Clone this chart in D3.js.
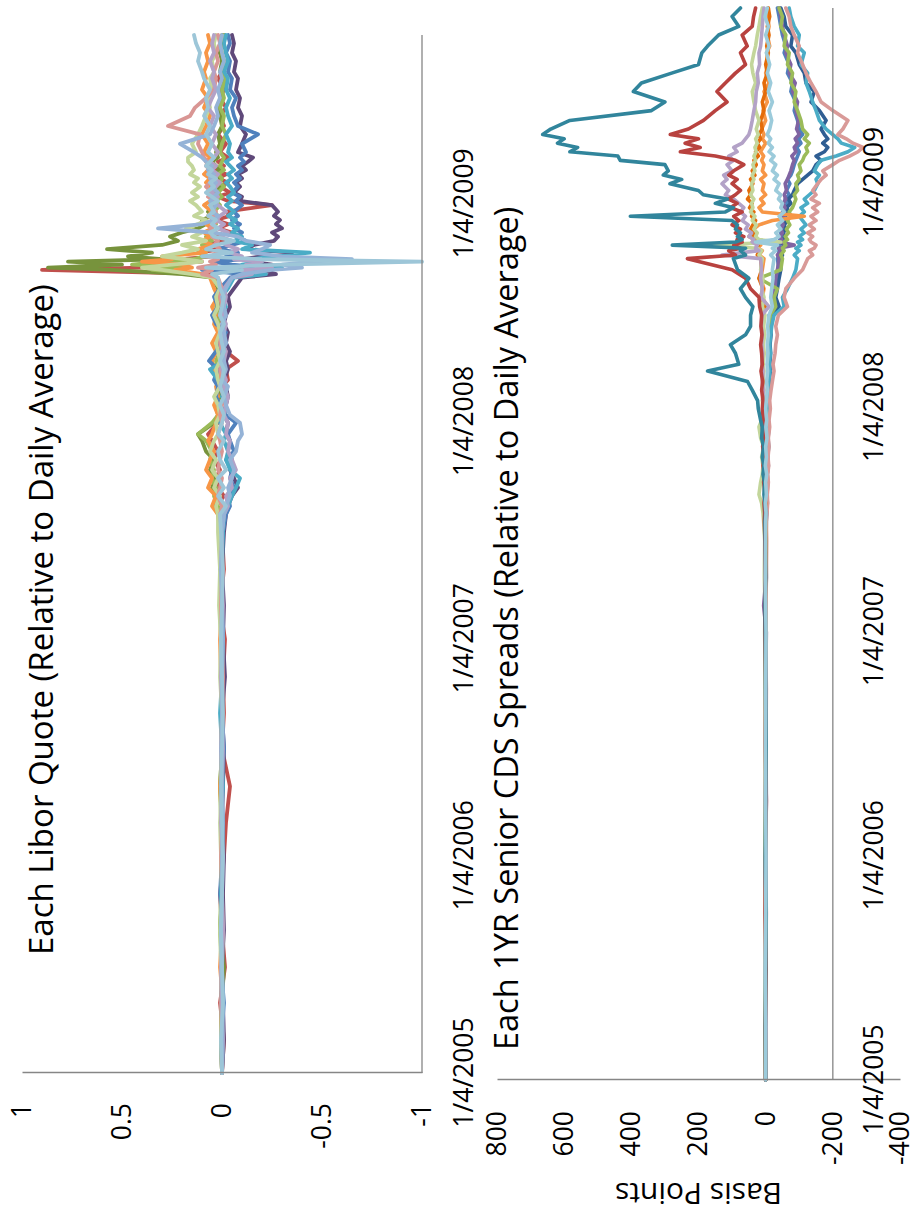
<!DOCTYPE html>
<html><head><meta charset="utf-8">
<script src="https://cdn.jsdelivr.net/npm/d3@7"></script>
<style>
html,body{margin:0;padding:0;background:#fff}
svg{display:block}
text{font-family:'Open Sans',sans-serif;fill:#000}
</style></head>
<body><svg id="c" width="915" height="1216"></svg>
<script>
// ---------------- DATA ----------------
const dateTicks = ["2005-01-04","2006-01-04","2007-01-04","2008-01-04","2009-01-04"];
const axisStart = "2005-01-04", axisEnd = "2009-10-15";
const liborTicks = [1, 0.5, 0, -0.5, -1];
const cdsTicks = [800, 600, 400, 200, 0, -200, -400];
const liborTitle = "Each Libor Quote (Relative to Daily Average)";
const cdsTitle = "Each 1YR Senior CDS Spreads (Relative to Daily Average)";
const cdsAxisTitle = "Basis Points";

const liborDates = ["2005-01-04","2005-03-01","2005-05-02","2005-07-01","2005-09-01","2005-11-01","2006-01-03","2006-03-01","2006-05-01","2006-07-03","2006-09-01","2006-11-01","2007-01-03","2007-03-01","2007-05-01","2007-07-02",
"2007-08-01","2007-08-15","2007-09-01","2007-09-15","2007-10-01","2007-10-15","2007-11-01","2007-11-15","2007-12-03","2007-12-14","2008-01-02","2008-01-15","2008-02-01","2008-02-15","2008-03-03","2008-03-14","2008-04-01","2008-04-15","2008-05-01","2008-05-15","2008-06-02","2008-06-16","2008-07-01","2008-07-15","2008-08-01","2008-08-15",
"2008-09-02","2008-09-08","2008-09-15","2008-09-19","2008-09-24","2008-09-29","2008-10-03","2008-10-08","2008-10-14","2008-10-20","2008-10-27","2008-11-03","2008-11-10","2008-11-17","2008-11-24","2008-12-01","2008-12-08","2008-12-15","2008-12-22","2009-01-02","2009-01-09","2009-01-16","2009-01-23","2009-02-02","2009-02-09","2009-02-16","2009-02-23","2009-03-02","2009-03-09","2009-03-16","2009-03-23","2009-04-01","2009-04-15","2009-05-01","2009-05-15","2009-06-01","2009-06-15","2009-07-01","2009-07-15","2009-08-03","2009-08-14","2009-09-01","2009-09-15","2009-10-01","2009-10-15"];

const liborBankA = [0,0.005,-0.005,0,0.005,0,-0.005,0,0.005,0,-0.005,0,0.005,0,-0.005,0.005,
0.01,-0.02,0.02,-0.01,0.02,-0.02,0.01,0.02,-0.01,0.02,0,-0.01,0.01,-0.01,0.01,0,-0.01,0.01,-0.01,0,0.01,-0.01,0.01,0,-0.01,0.01,
0.02,0.05,-0.1,0.08,-0.3,-1,-0.2,0.1,-0.05,0.08,0.03,-0.06,0.04,0.06,0.02,0.05,0.03,0.07,0.04,0.06,0.02,0.05,0.08,0.04,0.06,0.03,0.07,0.05,0.08,0.06,0.04,0.07,0.05,0.08,0.06,0.09,0.07,0.08,0.06,0.09,0.1,0.12,0.11,0.13,0.14];
const liborBankB = [0,-0.01,0.01,-0.015,0,0.01,-0.01,-0.02,-0.04,0,-0.01,-0.005,-0.015,0.01,-0.01,0,
0.01,0.03,-0.01,0.02,0.03,0.01,0.04,0.02,0.05,0.07,0.02,-0.01,0.01,-0.02,0,-0.03,-0.02,-0.08,-0.02,0.01,-0.01,0.02,0,-0.01,0.02,0,
0.03,0.05,0.9,0.4,0.3,0.1,0.2,0.05,0.12,0,0.08,-0.02,0.04,-0.05,0.02,-0.03,0.03,-0.04,-0.02,-0.25,-0.03,0.02,-0.04,0.01,-0.03,0.02,-0.02,0.03,-0.01,0.02,-0.03,0.01,-0.02,0.02,-0.01,0.01,-0.02,0.01,-0.01,0.02,0,-0.01,0.01,0,-0.01];
const liborBankC = [0,0.005,0,-0.01,0.01,0,0.005,-0.005,0.01,0,0.005,-0.01,0,0.01,0,0.005,
0.02,0.04,0.02,0.05,0.03,0.06,0.04,0.08,0.1,0.12,0.04,0.02,0.03,0.01,0.02,0.01,0.03,0.02,0.01,0.02,0.01,0.03,0.02,0.01,0.03,0.02,
0.05,0.2,0.55,0.87,0.5,0.77,0.3,0.47,0.35,0.575,0.3,0.22,0.26,0.2,0.12,0.08,0.1,0.05,0.07,0.03,0.05,0.02,0.04,0.01,0.03,0.02,0.04,0.01,0.03,0.05,0.02,0.03,0.01,0.02,0,0.01,0.02,0,0.01,-0.01,0.01,0,0.01,-0.01,0];
const liborBankD = [0,0.005,-0.005,0.01,0,-0.005,0.005,0,0.01,-0.005,0,0.005,0.01,0,0.005,0.01,
0.02,0.05,0.03,0.07,0.05,0.08,0.06,0.04,0.07,0.05,0.03,0.02,0.04,0.02,0.03,0.01,0.04,0.05,0.03,0.05,0.02,0.04,0.03,0.05,0.02,0.04,
0.06,0.1,0.235,0.15,0.2,0.4,0.25,0.3,0.08,0.12,0.05,0.1,0.06,0.09,0.05,0.08,0.04,0.07,0.05,0.09,0.06,0.04,0.07,0.05,0.08,0.06,0.09,0.07,0.05,0.08,0.06,0.09,0.07,0.1,0.08,0.06,0.09,0.07,0.1,0.08,0.09,0.07,0.08,0.06,0.07];
const liborBankE = [0,-0.01,-0.005,0,-0.01,-0.005,-0.01,0,-0.005,-0.01,0,-0.015,-0.005,-0.01,0,-0.01,
-0.02,-0.03,-0.05,-0.08,-0.06,-0.04,-0.05,-0.03,-0.04,-0.02,-0.03,-0.01,-0.02,-0.03,-0.02,-0.01,-0.03,-0.02,-0.04,-0.02,-0.03,-0.01,-0.02,-0.04,-0.03,-0.06,
-0.1,-0.27,-0.2,-0.12,-0.25,-0.15,-0.1,-0.2,-0.35,-0.12,-0.16,-0.26,-0.28,-0.25,-0.3,-0.27,-0.29,-0.26,-0.28,-0.25,-0.09,-0.1,-0.06,-0.09,-0.07,-0.1,-0.08,-0.12,-0.1,-0.13,-0.155,-0.08,-0.1,-0.12,-0.09,-0.1,-0.08,-0.09,-0.07,-0.08,-0.06,-0.07,-0.05,-0.06,-0.05];
const liborBankF = [0,0.005,-0.01,0.005,-0.005,0.01,0,-0.005,0.005,-0.01,0,0.005,-0.005,0,0.01,-0.005,
-0.02,-0.04,-0.03,-0.06,-0.04,-0.05,-0.02,-0.06,-0.04,-0.03,-0.07,-0.02,0.01,0.03,0.02,0.04,0.02,0.065,0.03,0.01,-0.02,0.03,0.05,0.02,0.04,0.01,
-0.04,-0.1,0.1,-0.2,-0.05,0.05,-0.1,-0.02,-0.08,0.02,-0.05,-0.12,-0.08,-0.1,-0.06,-0.09,-0.05,-0.08,-0.06,-0.1,-0.07,-0.09,-0.05,-0.08,-0.06,-0.09,-0.07,-0.1,-0.08,-0.11,-0.09,-0.12,-0.1,-0.18,-0.08,-0.06,-0.05,-0.07,-0.04,-0.05,-0.03,-0.04,-0.02,-0.04,-0.03];
const liborBankG = [0,-0.005,0.005,0,-0.005,0.005,0,0.005,-0.005,0,0.01,0,-0.005,0.005,0,-0.005,
-0.01,-0.03,-0.05,-0.07,-0.09,-0.04,-0.02,-0.03,-0.01,-0.02,0.01,-0.01,-0.02,0,-0.01,0.02,0.06,-0.01,0.01,-0.02,0,-0.01,0.01,-0.02,0,-0.03,
-0.06,-0.22,-0.15,-0.3,-0.1,-0.2,-0.15,-0.25,-0.44,-0.1,-0.15,-0.06,-0.1,-0.05,-0.08,-0.04,-0.07,-0.03,-0.06,-0.02,-0.05,-0.03,-0.06,-0.04,-0.02,-0.05,-0.03,-0.06,-0.04,-0.02,-0.05,-0.03,-0.04,-0.02,-0.05,-0.03,-0.02,-0.04,-0.02,-0.03,-0.01,-0.03,-0.02,-0.01,-0.02];
const liborBankH = [0,0.005,0,0.005,0.01,0,0.005,0.01,0,0.005,0,0.01,0.005,0.015,0.01,0.02,
0.02,0.03,0.01,0.04,0.02,0.05,0.03,0.06,0.04,0.02,0.03,0.01,0.02,0.04,0.01,0.02,0.03,0.01,0.02,0.03,0.01,0.02,0.04,0.02,0.03,0.01,
0.05,0.15,0.3,0.4,0.25,0.1,0.18,0.3,0.2,0.12,0.2,0.08,0.15,0.1,0.18,0.12,0.08,0.14,0.1,0.13,0.16,0.12,0.15,0.11,0.14,0.12,0.16,0.14,0.15,0.17,0.17,0.13,0.15,0.12,0.1,0.08,0.06,0.07,0.05,0.06,0.04,0.05,0.03,0.04,0.03];
const liborBankI = [0,0,0.005,0,-0.005,0,0.005,0,0,0.005,0,-0.005,0,0.005,0,0,
0.01,0,0.02,0.01,0,0.02,0.01,0,0.01,0.02,0,0.01,0,-0.01,0.01,0,0.01,-0.01,0,0.01,0,-0.01,0.01,0,0.01,0,
0.02,0.1,0.05,0.12,0.03,0.06,0.02,0.05,0.03,0.01,0.04,0.02,0.05,0.03,0.06,0.04,0.02,0.05,0.03,0.06,0.04,0.07,0.05,0.08,0.06,0.05,0.07,0.06,0.08,0.07,0.09,0.1,0.12,0.11,0.27,0.16,0.135,0.08,0.04,0.03,0.04,0.02,0.03,0.01,0.02];
const liborBankJ = [0,-0.005,0,0.005,-0.005,0,-0.005,0.005,0,-0.005,0,0.005,0,-0.005,0.005,0,
-0.01,-0.03,-0.02,-0.05,-0.04,-0.07,-0.05,-0.03,-0.04,-0.02,-0.03,-0.01,-0.02,-0.03,-0.01,-0.02,0,-0.01,-0.02,0,-0.01,-0.02,0,-0.01,-0.02,-0.01,
-0.05,-0.15,-0.1,-0.25,-0.12,-0.2,-0.06,-0.1,-0.04,-0.08,-0.02,-0.05,0.01,-0.03,0.02,-0.01,0.03,0.01,-0.02,0.02,0.04,0.02,0.05,0.03,0.01,0.04,0.02,0.05,0.03,0.06,0.04,0.02,0.05,0.03,0.06,0.04,0.07,0.05,0.03,0.05,0.04,0.06,0.04,0.05,0.04];
const liborBankK = [0,0,-0.005,0,0.005,0,0,-0.005,0,0.005,0,0,-0.005,0,0.005,0,
-0.01,-0.02,-0.04,-0.03,-0.05,-0.06,-0.04,-0.07,-0.08,-0.1,-0.09,-0.04,-0.02,-0.01,-0.03,0,-0.02,-0.01,0,-0.02,-0.01,0,-0.02,-0.01,0,-0.02,
-0.05,-0.1,-0.25,-0.4,-0.3,-0.45,-0.65,-0.3,-0.15,-0.2,-0.24,-0.12,-0.08,0.05,0.32,0.1,0.04,0.02,0.05,0.03,0.06,0.04,0.02,0.05,0.03,0.06,0.04,0.07,0.05,0.08,0.1,0.14,0.21,0.06,0.04,0.02,0.03,0.01,0.02,0,0.01,-0.01,0,0.01,0];
const liborBankL = [0,0.005,0.005,0,0.01,0.005,0,0.005,0.01,0,0.005,0,0.005,0.01,0,0.005,
0.01,0.02,0.04,0.03,0.05,0.04,0.06,0.05,0.08,0.12,0.05,0.02,0.01,0.03,0.02,0.01,0.02,0.03,0.01,0.02,0.01,0.02,0.01,0.03,0.02,0.01,
0.05,0.12,0.35,0.2,0.45,0.3,0.15,0.08,0.12,0.06,0.1,0.05,0.08,0.04,0.06,0.03,0.05,0.02,0.04,0.01,0.03,0,0.02,-0.01,0.01,0,0.02,-0.01,0.01,0,-0.01,0.01,0,-0.02,0,-0.01,0.01,-0.01,0,-0.02,0,-0.01,0,0.01,-0.01];

const cdsDates = ["2005-01-04","2005-04-01","2005-07-01","2005-10-03","2006-01-03","2006-04-03","2006-07-03","2006-10-02","2007-01-03","2007-02-15","2007-04-02","2007-06-01","2007-07-02",
"2007-07-16","2007-08-01","2007-08-15","2007-09-04","2007-09-17","2007-10-01","2007-10-15","2007-11-01","2007-11-15","2007-12-03","2007-12-14","2008-01-02","2008-01-15","2008-02-01","2008-02-15","2008-03-03","2008-03-14","2008-04-01","2008-04-15","2008-05-01","2008-05-15","2008-06-02","2008-06-16","2008-07-01","2008-07-15","2008-08-01","2008-08-15",
"2008-09-02","2008-09-08","2008-09-15","2008-09-19","2008-09-24","2008-09-29","2008-10-03","2008-10-08","2008-10-14","2008-10-20","2008-10-27","2008-11-03","2008-11-10","2008-11-17","2008-11-24","2008-12-01","2008-12-08","2008-12-15","2008-12-22","2009-01-02","2009-01-09","2009-01-16","2009-01-23","2009-02-02","2009-02-09","2009-02-16","2009-02-23","2009-03-02","2009-03-09","2009-03-16","2009-03-23","2009-04-01","2009-04-15","2009-05-01","2009-05-15","2009-06-01","2009-06-15","2009-07-01","2009-07-15","2009-08-03","2009-08-14","2009-09-01","2009-09-15","2009-10-01","2009-10-15"];

const cdsTeal = [0,1,0,-1,1,0,-1,0,1,2,0,1,2,
0,2,5,3,8,5,10,6,12,10,15,22,24,40,54,173,80,90,105,60,45,45,38,60,75,50,84,
96,60,75,60,278,90,70,84,75,90,84,100,403,120,96,150,114,186,200,285,250,305,290,300,433,440,583,560,620,600,664,640,583,340,300,394,370,280,200,190,173,140,80,100,75];
const cdsRed = [0,1,-1,2,0,-2,1,0,2,3,1,2,4,
3,5,2,6,4,8,5,9,6,10,7,10,8,12,9,14,10,12,15,11,14,12,18,20,45,60,100,
233,90,110,75,95,70,85,65,90,75,100,80,95,70,105,85,110,90,75,100,85,110,95,65,90,150,254,195,240,200,284,230,185,150,115,145,120,90,60,75,55,70,40,36,30];
const cdsPink = [0,-1,0,-2,1,0,-1,-2,0,-1,-2,-3,-2,
-4,-6,-5,-8,-6,-9,-7,-10,-8,-12,-10,-14,-12,-16,-20,-25,-22,-28,-30,-35,-30,-38,-65,-55,-60,-85,-110,
-125,-140,-130,-145,-150,-135,-130,-140,-125,-145,-130,-150,-135,-155,-140,-160,-135,-150,-140,-155,-165,-180,-170,-200,-220,-250,-275,-290,-260,-240,-215,-230,-245,-200,-165,-150,-135,-120,-110,-95,-100,-85,-75,-70,-60];
const cdsDarkBlue = [0,1,-1,0,2,-1,0,1,-1,0,-2,-1,-2,
-3,-5,-4,-6,-5,-8,-6,-9,-7,-10,-8,-11,-9,-12,-10,-14,-12,-15,-13,-16,-14,-18,-40,-30,-35,-40,-45,
-45,-50,-42,-48,-55,-45,-50,-58,-52,-60,-55,-65,-58,-70,-62,-75,-68,-80,-85,-95,-110,-125,-140,-150,-165,-150,-175,-185,-170,-185,-175,-165,-180,-160,-135,-145,-120,-115,-100,-90,-75,-80,-60,-55,-45];
const cdsAqua = [0,0,1,-1,0,1,-1,0,1,0,-1,0,-1,
-2,-4,-3,-5,-4,-6,-5,-8,-6,-9,-7,-10,-8,-11,-9,-13,-11,-14,-12,-15,-18,-25,-55,-50,-65,-80,-90,
-95,-85,-100,-90,-105,-95,-110,-100,-115,-105,-120,-110,-100,-115,-105,-125,-115,-130,-145,-155,-150,-160,-145,-155,-165,-210,-245,-265,-225,-215,-200,-180,-160,-150,-140,-130,-120,-125,-105,-115,-95,-100,-85,-75,-70];
const cdsOlive = [0,1,0,1,-1,0,1,0,-1,1,0,-1,0,
-1,-3,-2,-4,-3,-5,-4,-6,-5,-7,-6,-8,-7,-9,-8,-10,-9,-11,-10,-12,-11,-14,-30,-25,-35,20,-45,
-50,-45,-55,-50,-60,-55,-65,-58,-68,-62,-72,-65,-75,-70,-80,-85,-90,-85,-95,-90,-100,-95,-105,-100,-110,-115,-125,-120,-130,-115,-125,-110,-105,-95,-85,-90,-75,-80,-65,-70,-55,-60,-45,-50,-40];
const cdsPurple = [0,-1,0,-1,0,-2,-1,0,-2,6,-1,0,-1,
-2,-3,-1,-4,-2,-5,-3,-6,-4,-7,-5,-8,-6,-9,-7,-10,-8,-11,-9,-12,-10,-13,-25,-20,-28,-30,-35,
-40,-35,-45,-38,-85,-40,-48,-42,-50,-45,-52,-48,-55,-50,-58,-52,-60,-55,-62,-58,-65,-70,-75,-80,-85,-78,-90,-85,-95,-88,-100,-92,-98,-90,-95,-80,-88,-70,-75,-60,-65,-55,-50,-45,-40];
const cdsOrange = [0,0,1,0,-1,0,1,0,0,1,0,1,0,
1,2,0,3,1,4,2,5,3,6,4,7,5,8,6,9,7,10,8,11,9,12,-5,10,5,15,10,
5,20,10,25,15,40,30,50,40,36,20,-20,-115,10,20,5,15,0,10,5,15,0,10,5,12,6,15,8,0,10,5,12,0,8,-5,5,-10,0,-8,-3,-12,-5,-10,-6,-8];
const cdsDarkOrange = [0,1,0,-1,0,1,0,-1,0,1,0,-1,1,
2,0,3,1,4,2,5,3,6,4,7,5,8,6,9,7,10,8,11,9,12,10,0,15,8,20,12,
15,25,18,30,22,35,28,40,32,45,38,30,42,35,48,40,54,45,50,38,45,32,40,28,35,22,30,18,25,15,20,10,15,5,10,0,5,-5,0,-8,-3,-10,-5,-12,-8];
const cdsLightGreen = [0,1,2,0,1,2,0,1,3,2,4,3,6,
8,12,20,15,10,8,12,6,15,20,12,8,10,6,9,5,8,4,7,3,6,2,10,5,12,8,15,
10,20,12,25,164,-45,20,30,25,35,28,40,32,45,38,42,35,45,38,42,35,40,32,38,30,35,28,32,25,30,22,28,20,30,35,40,30,38,42,35,30,25,20,15,10];
const cdsLavender = [0,-1,1,0,-1,1,0,-1,0,1,0,2,1,
3,1,4,2,5,3,6,4,7,5,8,6,9,7,10,8,11,9,12,10,13,11,-10,14,10,15,12,
15,130,20,30,25,40,35,50,42,60,52,70,60,75,65,80,95,120,110,130,115,125,100,115,95,110,85,95,70,60,50,45,40,35,30,28,22,25,18,20,15,12,10,8,5];
const cdsLightBlue = [0,0,1,0,-1,0,1,0,-1,0,1,0,0,
-1,1,-2,0,-3,1,-2,0,-4,-1,-3,0,-2,-5,-3,-6,-4,-7,-5,-8,-6,-10,-20,-15,-18,-22,-20,
-25,-15,-30,-20,-35,30,-25,-40,-30,-45,-35,-50,-40,-55,-45,-50,-38,-45,-30,-40,-25,-35,-20,-30,-15,-25,-10,-20,-8,-15,-5,-12,-18,-10,-20,-8,-15,-5,-12,-2,-10,0,-8,2,-5];
const cdsBlue = [0,1,0,-1,1,0,-1,0,1,-1,0,1,-1,
-2,0,-3,-1,-4,-2,-5,-3,-6,-4,-7,-5,-8,-6,-9,-7,-10,-8,-11,-9,-12,-10,-35,-25,-30,-35,-40,
-35,-42,-38,-45,-40,-48,-42,-50,-45,-55,-48,-58,-52,-62,-55,-65,-58,-70,-62,-72,-65,-75,-80,-85,-90,-95,-100,-92,-105,-98,-110,-100,-95,-85,-90,-75,-80,-65,-70,-55,-60,-50,-45,-40,-35];

// ---------------- DRAWING ----------------
const parse = d3.timeParse("%Y-%m-%d");
const fmt = d3.timeFormat("%-m/%-d/%Y");
const svg = d3.select("#c");
const AXIS = "#868686";

const liborSeries = [
  [liborBankB, "#C0504D"], [liborBankC, "#77933C"], [liborBankL, "#9BBB59"], [liborBankD, "#F79646"],
  [liborBankE, "#5F497A"], [liborBankF, "#4F81BD"], [liborBankG, "#4BACC6"], [liborBankH, "#C3D69B"],
  [liborBankI, "#D99694"], [liborBankJ, "#B3A2C7"], [liborBankK, "#95B3D7"], [liborBankA, "#9DC6D8"]
];
const cdsSeries = [
  [cdsBlue, "#4F81BD"], [cdsDarkBlue, "#2F5E93"], [cdsPurple, "#8064A2"], [cdsOlive, "#9BBB59"],
  [cdsAqua, "#4BACC6"], [cdsPink, "#D99A98"], [cdsOrange, "#F79646"], [cdsDarkOrange, "#E46C0A"],
  [cdsLightGreen, "#C3D69B"], [cdsLavender, "#B3A2C7"], [cdsRed, "#B8423F"], [cdsTeal, "#31859C"],
  [cdsLightBlue, "#9CCBDB"]
];

function drawPanel(o) {
  const g = svg.append("g").attr("transform", `translate(${o.left},${o.bottom}) rotate(-90)`);
  const x = d3.scaleTime().domain([parse(axisStart), parse(axisEnd)]).range([0, o.len]);
  const y = d3.scaleLinear().domain(o.vdomain).range([0, o.depth]);
  const dates = o.dates.map(parse);

  const line = d3.line().defined(d => d[1] != null && !isNaN(d[1])).x(d => x(d[0])).y(d => y(d[1]));
  o.series.forEach(([vals, col]) => {
    g.append("path")
      .attr("d", line(dates.map((d, i) => [d, vals[i]])))
      .attr("fill", "none").attr("stroke", col).attr("stroke-width", o.sw)
      .attr("stroke-linejoin", "round").attr("stroke-linecap", "round");
  });

  const va = g.append("g").call(d3.axisLeft(y).tickValues(o.vticks).tickSize(0).tickPadding(o.vpad).tickFormat(d => String(d)));
  va.select(".domain").attr("stroke", AXIS).attr("stroke-width", 1.3);
  va.selectAll("text").style("font-family", "'Open Sans',sans-serif").style("font-size", "26.5px").attr("fill", "#000");

  g.append("line").attr("x1", 0).attr("x2", o.len)
    .attr("y1", y(o.crossAt)).attr("y2", y(o.crossAt))
    .attr("stroke", AXIS).attr("stroke-width", 1.3);

  const da = g.append("g").attr("transform", `translate(0,${o.labelY})`)
    .call(d3.axisBottom(x).tickValues(dateTicks.map(parse)).tickSize(0).tickFormat(fmt));
  da.select(".domain").remove();
  da.selectAll("text").attr("y", 0).attr("dy", 0)
    .style("font-family", "'Open Sans',sans-serif").style("font-size", "26.5px").attr("fill", "#000");

  g.append("text").attr("x", o.titleX).attr("y", o.titleY)
    .style("font-size", o.titleSize + "px").text(o.title);
  return {g, x, y};
}

drawPanel({
  left: 22, bottom: 1073, len: 1038, depth: 400, vdomain: [1, -1], vticks: liborTicks, vpad: 30,
  dates: liborDates, series: liborSeries, crossAt: -1, labelY: 451, sw: 3.8,
  title: liborTitle, titleX: 118, titleY: 31, titleSize: 33
});

const p2 = drawPanel({
  left: 497, bottom: 1080, len: 1072, depth: 403, vdomain: [800, -400], vticks: cdsTicks, vpad: 31,
  dates: cdsDates, series: cdsSeries, crossAt: -200, labelY: 386, sw: 3.6,
  title: cdsTitle, titleX: 30, titleY: 21, titleSize: 32.5
});
p2.g.append("text")
  .attr("transform", `translate(-103,${p2.y(200)}) rotate(-90)`)
  .attr("text-anchor", "middle").style("font-size", "30px").text(cdsAxisTitle);
</script>
</body></html>
